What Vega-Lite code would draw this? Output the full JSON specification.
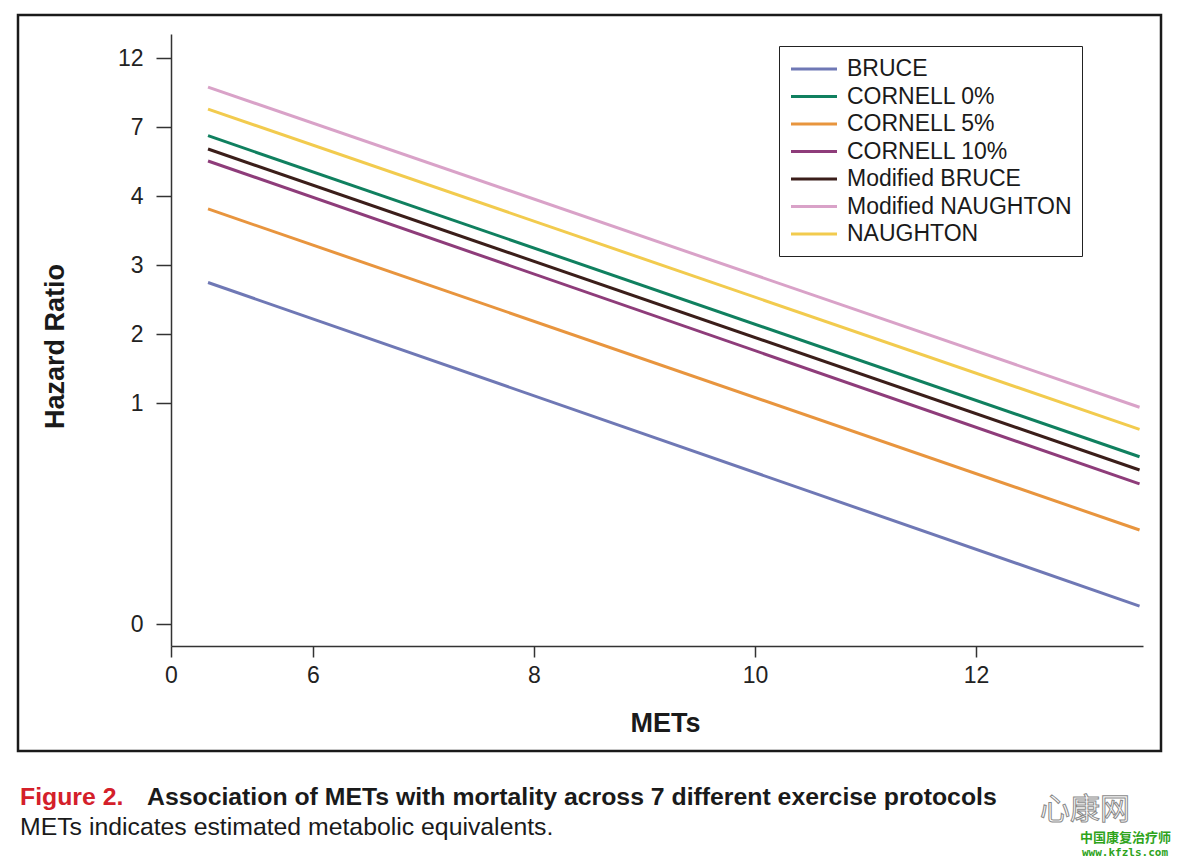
{
  "$schema": "https://vega.github.io/schema/vega-lite/v6.json",
  "width": 972,
  "height": 612,
  "autosize": {"type": "none"},
  "padding": {"left": 171, "top": 34, "right": 36, "bottom": 215},
  "background": "white",
  "config": {"view": {"stroke": null}, "font": "Liberation Sans"},
  "data": {"values": [
    {"protocol": "BRUCE", "mets": 5.05, "hr": 2.400},
    {"protocol": "BRUCE", "mets": 13.48, "hr": 0.2300},
    {"protocol": "CORNELL 0%", "mets": 5.05, "hr": 6.953},
    {"protocol": "CORNELL 0%", "mets": 13.48, "hr": 0.6791},
    {"protocol": "CORNELL 5%", "mets": 5.05, "hr": 4.090},
    {"protocol": "CORNELL 5%", "mets": 13.48, "hr": 0.3993},
    {"protocol": "CORNELL 10%", "mets": 5.05, "hr": 5.788},
    {"protocol": "CORNELL 10%", "mets": 13.48, "hr": 0.5576},
    {"protocol": "Modified BRUCE", "mets": 5.05, "hr": 6.314},
    {"protocol": "Modified BRUCE", "mets": 13.48, "hr": 0.6168},
    {"protocol": "Modified NAUGHTON", "mets": 5.05, "hr": 9.888},
    {"protocol": "Modified NAUGHTON", "mets": 13.48, "hr": 0.9721},
    {"protocol": "NAUGHTON", "mets": 5.05, "hr": 8.431},
    {"protocol": "NAUGHTON", "mets": 13.48, "hr": 0.8277}
  ]},
  "layer": [
    {
      "mark": {"type": "line", "strokeWidth": 3, "clip": false},
      "encoding": {
        "x": {
          "field": "mets", "type": "quantitative",
          "scale": {"domain": [4.71493, 13.51131], "nice": false, "zero": false},
          "axis": {
            "title": "METs", "values": [4.71493, 6, 8, 10, 12],
            "labelExpr": "datum.value < 5 ? '0' : format(datum.value, 'd')",
            "grid": false, "domainColor": "#333", "domainWidth": 1.5,
            "tickColor": "#333", "tickWidth": 1.5, "tickSize": 11,
            "labelFontSize": 23, "labelColor": "#222", "labelPadding": 7,
            "labelFont": "Liberation Sans", "labelFlush": false,
            "titleFont": "Liberation Sans", "titleFontSize": 27, "titleFontWeight": "bold",
            "titleColor": "#1a1a1a", "titleX": 494, "titleY": 85, "titleBaseline": "alphabetic"
          }
        },
        "y": {
          "field": "hr", "type": "quantitative",
          "scale": {"type": "log", "domain": [0.17229, 14.529], "nice": false},
          "axis": {
            "title": "Hazard Ratio",
            "values": [0.2019, 1, 1.64872, 2.71828, 4.48169, 7.38906, 12.18249],
            "labelExpr": "format(round(datum.value), 'd')",
            "grid": false, "domainColor": "#333", "domainWidth": 1.5,
            "tickColor": "#333", "tickWidth": 1.5, "tickSize": 15,
            "labelFontSize": 23, "labelColor": "#222", "labelPadding": 13,
            "labelFont": "Liberation Sans", "labelFlush": false,
            "titleFont": "Liberation Sans", "titleFontSize": 27, "titleFontWeight": "bold",
            "titleColor": "#1a1a1a", "titleX": -108, "titleY": 312, "titleBaseline": "alphabetic", "titleAngle": -90
          }
        },
        "color": {
          "field": "protocol", "type": "nominal",
          "scale": {
            "domain": ["BRUCE", "CORNELL 0%", "CORNELL 5%", "CORNELL 10%", "Modified BRUCE", "Modified NAUGHTON", "NAUGHTON"],
            "range": ["#6f78b5", "#10805f", "#e8953e", "#8e3c7a", "#3b1e1a", "#d9a2c8", "#f2cb4e"]
          },
          "legend": {
            "title": null, "orient": "none", "legendX": 608, "legendY": 12,
            "symbolType": "M-2,0H2", "symbolSize": 529, "symbolStrokeWidth": 3,
            "labelFont": "Liberation Sans", "labelFontSize": 23, "labelColor": "#1a1a1a",
            "labelOffset": 20, "symbolOffset": 12, "padding": 10, "rowPadding": 2.5,
            "strokeColor": "#222", "fillColor": "white", "labelLimit": 400
          }
        }
      }
    },
    {
      "data": {"values": [{}]},
      "mark": {"type": "rect", "fill": null, "fillOpacity": 0, "stroke": "#1a1a1a", "strokeWidth": 2.5, "clip": false},
      "encoding": {
        "x": {"datum": 3.33032, "type": "quantitative"},
        "x2": {"datum": 13.67421},
        "y": {"datum": 16.673, "type": "quantitative"},
        "y2": {"datum": 0.08049}
      }
    },
    {
      "data": {"values": [{}]},
      "mark": {"type": "text", "text": "Figure 2.", "font": "Liberation Sans", "fontSize": 24.8, "fontWeight": "bold", "color": "#d4202a", "align": "left", "baseline": "alphabetic", "clip": false},
      "encoding": {"x": {"datum": 3.34842, "type": "quantitative"}, "y": {"datum": 0.05441, "type": "quantitative"}}
    },
    {
      "data": {"values": [{}]},
      "mark": {"type": "text", "text": "Association of METs with mortality across 7 different exercise protocols", "font": "Liberation Sans", "fontSize": 24.8, "fontWeight": "bold", "color": "#1a1a1a", "align": "left", "baseline": "alphabetic", "clip": false},
      "encoding": {"x": {"datum": 4.49774, "type": "quantitative"}, "y": {"datum": 0.05441, "type": "quantitative"}}
    },
    {
      "data": {"values": [{}]},
      "mark": {"type": "text", "text": "METs indicates estimated metabolic equivalents.", "font": "Liberation Sans", "fontSize": 24.8, "color": "#1a1a1a", "align": "left", "baseline": "alphabetic", "clip": false},
      "encoding": {"x": {"datum": 3.34842, "type": "quantitative"}, "y": {"datum": 0.04379, "type": "quantitative"}}
    },
    {
      "data": {"values": [{}]},
      "mark": {"type": "text", "text": "心康网", "font": "Noto Sans CJK SC", "fontSize": 30, "fill": "#ffffff", "stroke": "#8a8a8a", "strokeWidth": 1, "align": "left", "baseline": "alphabetic", "clip": false},
      "encoding": {"x": {"datum": 12.57919, "type": "quantitative"}, "y": {"datum": 0.04918, "type": "quantitative"}}
    },
    {
      "data": {"values": [{}]},
      "mark": {"type": "text", "text": "中国康复治疗师", "font": "Noto Sans CJK SC", "fontSize": 13, "fontWeight": "bold", "color": "#2ea31b", "align": "left", "baseline": "alphabetic", "clip": false},
      "encoding": {"x": {"datum": 12.94118, "type": "quantitative"}, "y": {"datum": 0.04162, "type": "quantitative"}}
    },
    {
      "data": {"values": [{}]},
      "mark": {"type": "text", "text": "www.kfzls.com", "font": "DejaVu Sans Mono", "fontSize": 11, "fontWeight": "bold", "color": "#2ea31b", "align": "left", "baseline": "alphabetic", "clip": false},
      "encoding": {"x": {"datum": 12.95928, "type": "quantitative"}, "y": {"datum": 0.03763, "type": "quantitative"}}
    }
  ]
}
